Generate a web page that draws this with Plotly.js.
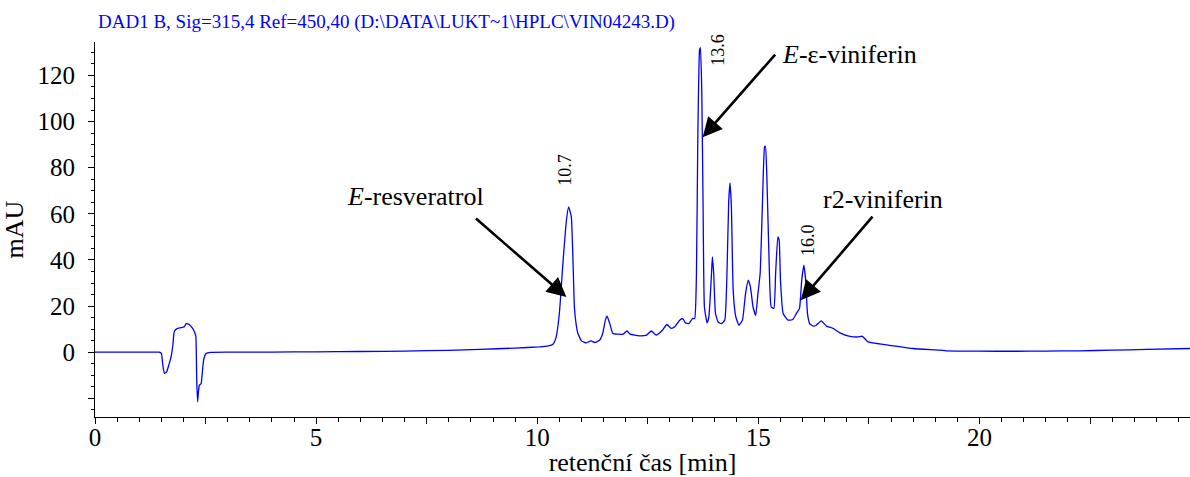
<!DOCTYPE html>
<html>
<head>
<meta charset="utf-8">
<script src="https://cdn.plot.ly/plotly-3.0.1.min.js"></script>
<style>html,body{margin:0;padding:0;background:#fff;}#chart{width:1190px;height:477px;}</style>
</head>
<body>
<div id="chart"></div>
<script>
// Retention time [min]
const time = [0,0.5,1.0,1.45,1.50,1.53,1.57,1.62,1.67,1.72,1.76,1.79,1.84,1.91,1.98,2.02,2.06,2.13,2.20,2.25,2.28,2.30,2.32,2.34,2.36,2.40,2.43,2.46,2.51,2.62,3.0,4.0,5.0,6.0,7.0,8.0,8.7,9.5,10.05,10.25,10.35,10.42,10.50,10.58,10.66,10.71,10.77,10.81,10.84,10.88,10.92,11.0,11.11,11.17,11.22,11.30,11.41,11.48,11.54,11.58,11.64,11.71,11.82,11.94,12.03,12.10,12.31,12.47,12.58,12.69,12.83,12.93,13.03,13.11,13.22,13.29,13.35,13.43,13.51,13.56,13.60,13.63,13.67,13.69,13.72,13.75,13.78,13.84,13.88,13.94,13.96,13.99,14.03,14.09,14.16,14.24,14.29,14.33,14.36,14.39,14.43,14.49,14.56,14.64,14.71,14.77,14.82,14.88,14.94,14.99,15.04,15.09,15.14,15.16,15.19,15.24,15.29,15.35,15.39,15.44,15.47,15.50,15.56,15.67,15.78,15.86,15.93,15.98,16.03,16.07,16.11,16.16,16.24,16.31,16.42,16.54,16.69,16.84,17.07,17.25,17.35,17.48,17.74,17.97,18.50,19.10,19.25,20.0,20.76,21.5,22.27,23.0,23.78,24.76];
// Absorbance [mAU]
const absorbance = [0,0,0,0,-0.5,-5,-9.2,-8.5,-5.5,-2,3,8.8,10,10.5,10.8,11,12.4,12,10.5,8.8,7.0,-12,-21.5,-17,-14.3,-13.6,-8,-3,-0.6,-0.1,0,0.05,0.15,0.3,0.5,0.8,1.2,1.8,2.3,2.7,3.3,6,16.8,38.5,57.2,63,58.7,38.5,19.6,12,8.1,4.9,4.0,4.6,4.9,4.2,5.2,8.1,13.9,15.6,12.4,8.1,7.8,7.8,9.2,7.8,7.1,7.4,9.2,7.4,9.5,12,10.3,11,13.9,14.6,12.7,12.4,14.6,14.6,34,92,131,132.1,113.6,63,19.6,12.7,15.3,34,41.3,34.1,16.8,13.1,12.4,13.9,34.1,65.9,73.4,63,26.9,15.3,11.7,13.9,25.4,31.2,28.3,19.6,16,25.4,34.1,63,89,89.3,77.5,41.3,19.6,19,34.1,50,48.6,31.2,16.8,13.9,14.2,16.8,19,31.2,37.7,31.2,16.8,12.4,11.3,11.7,13.6,11.3,10.3,8.4,6.9,6.6,6.9,4.5,3.6,3.0,1.6,0.9,0.6,0.45,0.4,0.5,0.6,0.9,1.2,1.6];

// Tick labels
const xTickVals = [0,2.5,5,7.5,10,12.5,15,17.5,20,22.5];
const xTickText = ['0','','5','','10','','15','','20',''];
const yTickVals = [-20,0,20,40,60,80,100,120];
const yTickText = ['','0','20','40','60','80','100','120'];

// Peak retention-time labels
const peakLabels = ['10.7','13.6','16.0'];
const peakLabelX = [10.64,14.08,16.12];
const peakLabelY = [78.9,131.0,48.6];

// Compound names and arrows
const compounds = ['<i>E</i>-resveratrol','<i>E</i>-ε-viniferin','r2-viniferin'];
const compoundX = [7.25,17.05,17.82];
const compoundY = [67.6,129.2,66.3];
const arrowTailX = [8.58,15.41,17.61];
const arrowTailY = [58.5,129.7,59.4];
const arrowHeadX = [10.66,13.74,15.96];
const arrowHeadY = [23.9,93.2,22.5];

const serif = "'Liberation Serif', 'Times New Roman', Times, serif";

const annotations = [];
for (let i = 0; i < peakLabels.length; i++) {
  annotations.push({x: peakLabelX[i], y: peakLabelY[i], xref:'x', yref:'y', text: peakLabels[i],
    showarrow:false, textangle:-90, xanchor:'center', yanchor:'middle',
    font:{family:serif, size:18, color:'#000'}});
}
for (let i = 0; i < compounds.length; i++) {
  annotations.push({x: compoundX[i], y: compoundY[i], xref:'x', yref:'y', text: compounds[i],
    showarrow:false, xanchor:'center', yanchor:'middle',
    font:{family:serif, size:26, color:'#000'}});
  annotations.push({x: arrowHeadX[i], y: arrowHeadY[i], xref:'x', yref:'y',
    ax: arrowTailX[i], ay: arrowTailY[i], axref:'x', ayref:'y', text:'',
    showarrow:true, arrowhead:2, arrowsize:1.5, arrowwidth:2.6, arrowcolor:'#000', standoff:0, startstandoff:0});
}

const trace = {x: time, y: absorbance, type:'scatter', mode:'lines',
  line:{color:'#0000ff', width:1.3, shape:'spline', smoothing:0.4}, hoverinfo:'skip'};

const layout = {
  width:1190, height:477,
  margin:{l:95, r:0, t:42, b:60, pad:0},
  paper_bgcolor:'#fff', plot_bgcolor:'#fff',
  showlegend:false,
  title:{text:'DAD1 B, Sig=315,4 Ref=450,40 (D:\\DATA\\LUKT~1\\HPLC\\VIN04243.D)',
    xref:'container', yref:'container', x:98/1190, xanchor:'left', y:1-21/477, yanchor:'middle',
    font:{family:serif, size:19, color:'#0000ff'}},
  xaxis:{range:[0,24.76], showgrid:false, zeroline:false, showline:true, linecolor:'#000', linewidth:1,
    ticks:'outside', ticklen:6, tickwidth:1, tickcolor:'#000', tickmode:'array', tickvals:xTickVals, ticktext:xTickText,
    ticklabelstandoff:-8,
    minor:{dtick:0.5, tick0:0, ticks:'outside', ticklen:4, tickcolor:'#000', showgrid:false},
    tickfont:{family:serif, size:25, color:'#000'},
    title:{text:'retenční čas [min]', font:{family:serif, size:26, color:'#000'}, standoff:0}},
  yaxis:{range:[-28.1,134.5], showgrid:false, zeroline:false, showline:true, linecolor:'#000', linewidth:1,
    ticks:'outside', ticklen:6, tickwidth:1, tickcolor:'#000', tickmode:'array', tickvals:yTickVals, ticktext:yTickText,
    ticklabelstandoff:8,
    minor:{dtick:5, tick0:0, ticks:'outside', ticklen:3, tickcolor:'#000', showgrid:false},
    tickfont:{family:serif, size:25, color:'#000'},
    title:{text:'mAU', font:{family:serif, size:26, color:'#000'}, standoff:8}},
  annotations: annotations
};

Plotly.newPlot('chart', [trace], layout, {displayModeBar:false, staticPlot:true});
</script>
</body>
</html>
